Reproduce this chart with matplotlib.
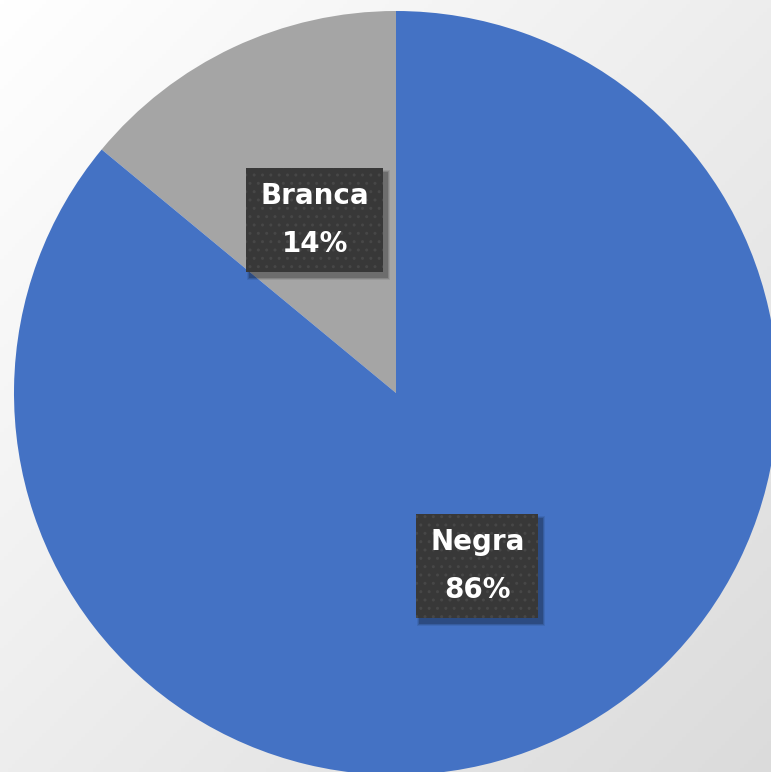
import matplotlib
matplotlib.use("Agg")
import matplotlib.pyplot as plt
from matplotlib.patches import Rectangle
import numpy as np

# Datos
categorias = ["Branca", "Negra"]
porcentajes = [14, 86]
colores = ["#A5A5A5", "#4472C4"]

plt.rcParams["hatch.color"] = "#4A4A4A"
W, H = 771, 772
fig = plt.figure(figsize=(W / 100, H / 100), dpi=100)
ax = fig.add_axes([0, 0, 1, 1])

# Fondo en degradado (blanco arriba-izquierda, gris claro abajo-derecha)
gx, gy = np.meshgrid(np.linspace(0, 1, 200), np.linspace(0, 1, 200))
g = np.clip((gx + gy) / 2, 0, 1)
fondo = np.stack([1 - 0.14 * g] * 3, axis=-1)
ax.imshow(fondo, extent=[0, W, 0, H], zorder=0, aspect="auto")

etiquetas = [f"{c}\n{p}%" for c, p in zip(categorias, porcentajes)]
cx, cy, r = 396, H - 393, 382
wedges, textos = ax.pie(porcentajes, colors=colores, startangle=90, counterclock=True,
                        center=(cx, cy), radius=r, labels=etiquetas, labeldistance=0.5,
                        wedgeprops=dict(linewidth=0), frame=True,
                        textprops=dict(color="white", fontsize=20, fontweight="bold",
                                       ha="center", va="center", linespacing=1.9))
ax.set_xlim(0, W); ax.set_ylim(0, H); ax.set_aspect("equal"); ax.axis("off")
for w in wedges:
    w.set_zorder(1)

for t in textos:
    t.set_zorder(3)
    t.set_bbox(dict(boxstyle="square,pad=0.5", facecolor="#383838", edgecolor="#474747",
                    hatch="..", linewidth=0))

# sombras de las cajas
fig.canvas.draw()
inv = ax.transData.inverted()
for t in textos:
    bb = t.get_bbox_patch().get_window_extent()
    (x0, y0), (x1, y1) = inv.transform([[bb.x0, bb.y0], [bb.x1, bb.y1]])
    for k, a in [(6, 0.08), (4, 0.12), (2, 0.18)]:
        ax.add_patch(Rectangle((x0 + 4 - k / 2, y0 - 5 - k / 2), x1 - x0 + k, y1 - y0 + k,
                               facecolor="black", alpha=a, linewidth=0, zorder=2))

fig.savefig("out.png", dpi=100)
